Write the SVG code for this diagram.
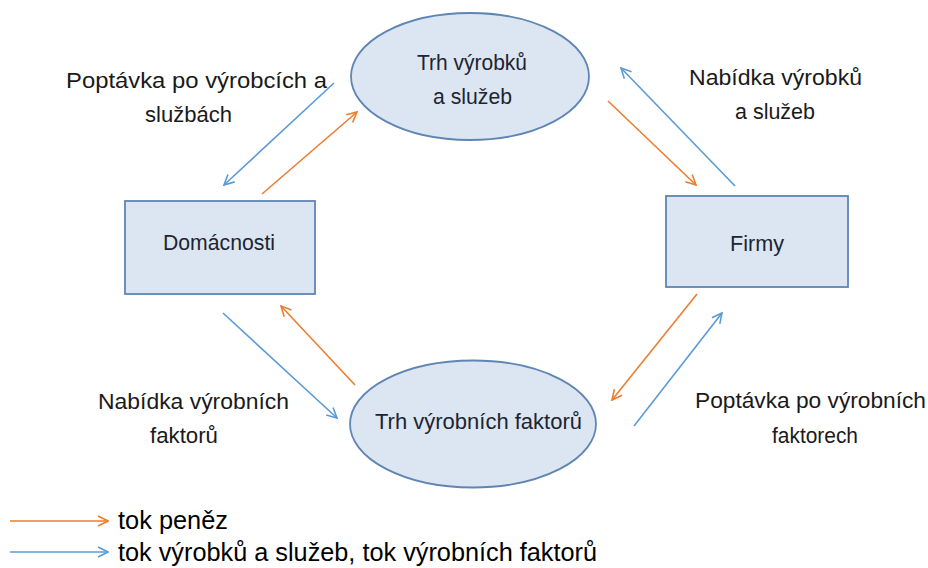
<svg xmlns="http://www.w3.org/2000/svg" width="928" height="568" viewBox="0 0 928 568">
<style>
.node{fill:#dce6f2;stroke:#5f86b3;stroke-width:1.8}
.t{font-family:"Liberation Sans",Arial,sans-serif;font-size:22px;fill:#1a1a1a}
.nt{font-family:"Liberation Sans",Arial,sans-serif;font-size:22px;fill:#1c2530}
.lg{font-family:"Liberation Sans",Arial,sans-serif;font-size:25px;fill:#000}
.o{stroke:#ed7d31;stroke-width:1.6;fill:none;marker-end:url(#ao)}
.b{stroke:#5b9bd5;stroke-width:1.6;fill:none;marker-end:url(#ab)}
</style>
<defs>
<marker id="ao" viewBox="0 0 12 12" refX="11" refY="6" markerWidth="12" markerHeight="12" markerUnits="userSpaceOnUse" orient="auto"><path d="M1,1 L11,6 L1,11" fill="none" stroke="#ed7d31" stroke-width="1.6"/></marker>
<marker id="ab" viewBox="0 0 12 12" refX="11" refY="6" markerWidth="12" markerHeight="12" markerUnits="userSpaceOnUse" orient="auto"><path d="M1,1 L11,6 L1,11" fill="none" stroke="#5b9bd5" stroke-width="1.6"/></marker>
</defs>
<rect width="928" height="568" fill="#fff"/>
<g id="trh-vyrobku">
<ellipse class="node" cx="470" cy="76.5" rx="119" ry="63.5"/>
<text class="nt" x="417" y="70" textLength="110" lengthAdjust="spacingAndGlyphs">Trh výrobků</text>
<text class="nt" x="433" y="104" textLength="79" lengthAdjust="spacingAndGlyphs">a služeb</text>
</g>
<g id="trh-faktoru">
<ellipse class="node" cx="473" cy="424" rx="123" ry="63.5"/>
<text class="nt" x="375" y="429" textLength="207" lengthAdjust="spacingAndGlyphs">Trh výrobních faktorů</text>
</g>
<g id="domacnosti">
<rect class="node" x="125" y="201" width="190" height="93"/>
<text class="nt" x="163" y="250" textLength="112" lengthAdjust="spacingAndGlyphs">Domácnosti</text>
</g>
<g id="firmy">
<rect class="node" x="666" y="196" width="182" height="91"/>
<text class="nt" x="730" y="251" textLength="54" lengthAdjust="spacingAndGlyphs">Firmy</text>
</g>
<g id="labels">
<text class="t" x="66" y="88" textLength="261" lengthAdjust="spacingAndGlyphs">Poptávka po výrobcích a</text>
<text class="t" x="145" y="122" textLength="87" lengthAdjust="spacingAndGlyphs">službách</text>
<text class="t" x="689" y="85" textLength="173" lengthAdjust="spacingAndGlyphs">Nabídka výrobků</text>
<text class="t" x="735" y="119" textLength="80" lengthAdjust="spacingAndGlyphs">a služeb</text>
<text class="t" x="98" y="409" textLength="191" lengthAdjust="spacingAndGlyphs">Nabídka výrobních</text>
<text class="t" x="150" y="443" textLength="68" lengthAdjust="spacingAndGlyphs">faktorů</text>
<text class="t" x="695" y="408" textLength="231" lengthAdjust="spacingAndGlyphs">Poptávka po výrobních</text>
<text class="t" x="772" y="443" textLength="86" lengthAdjust="spacingAndGlyphs">faktorech</text>
</g>
<g id="connectors">
<line class="b" x1="334" y1="83" x2="224" y2="185"/>
<line class="o" x1="262" y1="194" x2="357" y2="112"/>
<line class="o" x1="608" y1="101" x2="696" y2="185"/>
<line class="b" x1="735" y1="186" x2="621" y2="68"/>
<line class="b" x1="223" y1="313" x2="337" y2="418"/>
<line class="o" x1="355" y1="385" x2="281" y2="306"/>
<line class="o" x1="697" y1="294" x2="612" y2="400"/>
<line class="b" x1="634" y1="426" x2="722" y2="313"/>
</g>
<g id="legend">
<line class="o" x1="10" y1="521" x2="108" y2="521"/>
<line class="b" x1="10" y1="552" x2="108" y2="552"/>
<text class="lg" x="118" y="529" textLength="110" lengthAdjust="spacingAndGlyphs">tok peněz</text>
<text class="lg" x="118" y="561" textLength="479" lengthAdjust="spacingAndGlyphs">tok výrobků a služeb, tok výrobních faktorů</text>
</g>
</svg>
